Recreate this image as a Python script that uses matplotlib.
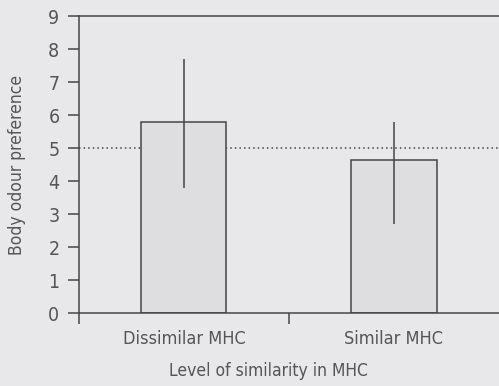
import numpy as np
import matplotlib
matplotlib.use("Agg")
import matplotlib.pyplot as plt

# data
categories = ["Dissimilar MHC", "Similar MHC"]
means = [5.8, 4.65]
err_low = [3.8, 2.7]
err_high = [7.7, 5.8]
yticks = list(range(0, 10))

ink = "#454545"
txt = "#555555"
bg = "#e8e8ea"

plt.rcParams['font.family'] = ['DejaVu Sans']

fig = plt.figure(figsize=(4.99, 3.86), dpi=100, facecolor=bg)
ax = fig.add_axes([0.158, 0.189, 0.842, 0.7695], facecolor=bg)

x = np.arange(len(categories)) + 0.5
ax.bar(x, means, width=0.405, color="#dedee1", edgecolor=ink, linewidth=1.1, zorder=2)

means_arr = np.array(means)
yerr = [means_arr - np.array(err_low), np.array(err_high) - means_arr]
ax.errorbar(x, means, yerr=yerr, fmt="none", ecolor=ink, elinewidth=1.1, capsize=0, zorder=3)

# chance level
ax.axhline(5, color=ink, linestyle=(0, (1, 2)), linewidth=1.1, zorder=1)

ax.set_xlim(0, 2)
ax.set_ylim(0, 9)
ax.set_yticks(yticks)
ax.set_yticklabels([str(t) for t in yticks], fontstretch="condensed", fontweight="light")
ax.set_xticks([0, 1])
ax.set_xticklabels([])
for xi, lab in zip(x, categories):
    ax.text(xi, -0.5, lab, ha="center", va="top", fontsize=13, fontstretch="condensed", color=txt)

ax.tick_params(axis="y", direction="out", length=8, width=1.1, color=ink,
               labelcolor=txt, labelsize=14, pad=6)
ax.tick_params(axis="x", direction="out", length=8, width=1.1, color=ink)

for s in ax.spines.values():
    s.set_color(ink)
    s.set_linewidth(1.1)
ax.spines["right"].set_visible(False)

ax.set_ylabel("Body odour preference", fontsize=12.5, color=txt, labelpad=16,
              fontstretch="condensed")
fig.text(0.537, 0.04, "Level of similarity in MHC", ha="center", va="center",
         fontsize=12.5, fontstretch="condensed", color=txt)

fig.savefig("out.png", dpi=100, facecolor=bg)
